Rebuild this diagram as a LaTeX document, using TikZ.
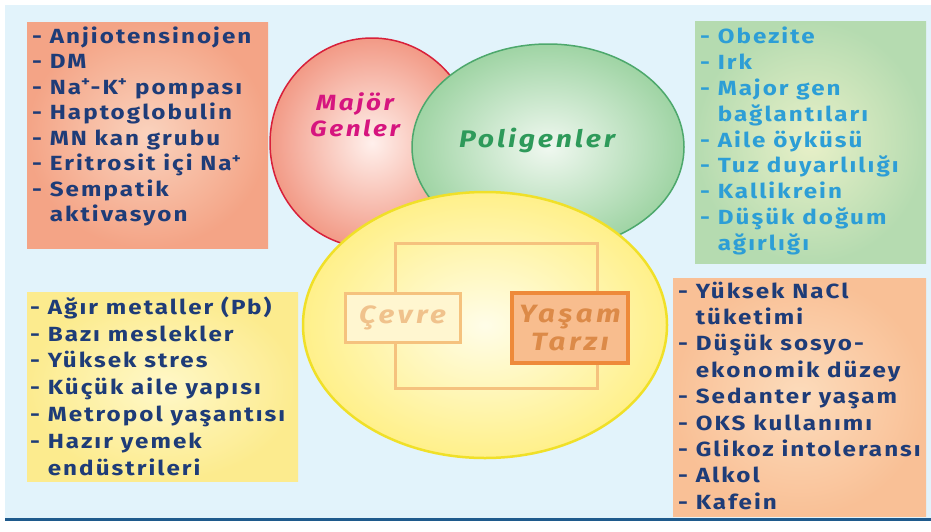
\documentclass[tikz,border=0pt]{standalone}
\usepackage{fontspec}
\setmainfont{Fira Sans}
\newfontfamily\listfont[FakeStretch=1.18,LetterSpace=10]{Fira Sans}
\newfontfamily\labfont[FakeStretch=1.18,LetterSpace=12]{Fira Sans}
\newfontfamily\boxfont[FakeStretch=1.18,LetterSpace=14]{Fira Sans}
\definecolor{bgblue}{HTML}{E2F3FB}
\definecolor{navy}{HTML}{1E3C78}
\definecolor{cyantext}{HTML}{2D9ED6}
\definecolor{salmonout}{HTML}{F4A486}
\definecolor{salmonin}{HTML}{FAD3BE}
\definecolor{greenout}{HTML}{B5DBB0}
\definecolor{greenin}{HTML}{E8F0C8}
\definecolor{yellowout}{HTML}{FCEB8E}
\definecolor{yellowin}{HTML}{FFF8C8}
\definecolor{peachout}{HTML}{F9C096}
\definecolor{peachin}{HTML}{FCDCBC}
\definecolor{redstroke}{HTML}{D8203A}
\definecolor{redout}{HTML}{F29A86}
\definecolor{redin}{HTML}{FFF0EC}
\definecolor{grstroke}{HTML}{4DA86C}
\definecolor{grout}{HTML}{9FD4A4}
\definecolor{grin}{HTML}{F0F8F0}
\definecolor{ylstroke}{HTML}{F0E028}
\definecolor{ylout}{HTML}{FFF08A}
\definecolor{ylin}{HTML}{FFFDE8}
\definecolor{lightorange}{HTML}{F5C27E}
\definecolor{cevrefill}{HTML}{FFF6D0}
\definecolor{cevretext}{HTML}{F0C28C}
\definecolor{yasamfill}{HTML}{F8BD8E}
\definecolor{yasamstroke}{HTML}{EE8A3A}
\definecolor{yasamtext}{HTML}{DC8A48}
\definecolor{magentatext}{HTML}{D6157F}
\definecolor{poligreen}{HTML}{2E9A5A}
\definecolor{lineblue}{HTML}{1E5A8C}
\tikzset{
  listtext/.style={anchor=north west, inner sep=0pt, align=left, text=navy},
  circlabel/.style={inner sep=0pt, align=center},
}
\begin{document}
\begin{tikzpicture}[x=1pt,y=-1pt]
\useasboundingbox (0,0) rectangle (931,531);
\fill[white] (0,0) rectangle (931,531);
\fill[bgblue] (5,5) rectangle (931,518);
\draw[lineblue, line width=3pt] (5,519.5) -- (931,519.5);
% boxes
\shade[inner color=salmonin, outer color=salmonout] (27,22) rectangle (268,248);
\shade[inner color=greenin, outer color=greenout] (695,21) rectangle (926,263);
\shade[inner color=yellowin, outer color=yellowout] (27,292) rectangle (298,481);
\shade[inner color=peachin, outer color=peachout] (673,278) rectangle (926,516);
% circles
\shade[inner color=redin, outer color=redout, draw=redstroke, line width=1.5pt] (372,143) ellipse [x radius=102, y radius=105];
\shade[inner color=grin, outer color=grout, draw=grstroke, line width=1.5pt] (548,147) ellipse [x radius=136, y radius=103];
\shade[inner color=ylin, outer color=ylout, draw=ylstroke, line width=2.5pt] (485,325) ellipse [x radius=182, y radius=133];
% inner frame
\draw[lightorange, line width=3pt] (395,243) rectangle (597,388);
\node[draw=lightorange, fill=cevrefill, line width=3pt, minimum width=115pt, minimum height=49pt, inner sep=0pt,
  font=\boxfont\fontsize{25}{28}\selectfont\bfseries\itshape, text=cevretext] (cevre) at (402.5,317.5) {Çevre};
\node[draw=yasamstroke, fill=yasamfill, line width=3.5pt, minimum width=116pt, minimum height=70pt, inner sep=0pt, align=center,
  font=\boxfont\fontsize{25}{28}\selectfont\bfseries\itshape, text=yasamtext] (yasam) at (570,328) {Yaşam\\Tarzı};
% circle labels
\node[circlabel, text=magentatext, font=\labfont\fontsize{22}{26.5}\selectfont\bfseries\itshape] (major) at (355,115) {Majör\\Genler};
\node[circlabel, text=poligreen, font=\labfont\fontsize{24}{28}\selectfont\bfseries\itshape] (poli) at (537,140) {Poligenler};
% list texts
\node[listtext, font=\listfont\fontsize{20.5}{25.5}\selectfont\bfseries] (tl) at (32,26.5) {- Anjiotensinojen\\- DM\\- Na\textsuperscript{+}-K\textsuperscript{+} pompası\\- Haptoglobulin\\- MN kan grubu\\- Eritrosit içi Na\textsuperscript{+}\\- Sempatik\\\phantom{- }aktivasyon};
\node[listtext, text=cyantext, font=\listfont\fontsize{20.5}{25.8}\selectfont\bfseries] (tr) at (700,27) {- Obezite\\- Irk\\- Major gen\\\phantom{- }bağlantıları\\- Aile öyküsü\\- Tuz duyarlılığı\\- Kallikrein\\- Düşük doğum\\\phantom{- }ağırlığı};
\node[listtext, font=\listfont\fontsize{20.5}{26.8}\selectfont\bfseries] (bl) at (30,296.5) {- Ağır metaller (Pb)\\- Bazı meslekler\\- Yüksek stres\\- Küçük aile yapısı\\- Metropol yaşantısı\\- Hazır yemek\\\phantom{- }endüstrileri};
\node[listtext, font=\listfont\fontsize{20.5}{26.4}\selectfont\bfseries] (br) at (678,281.5) {- Yüksek NaCl\\\phantom{- }tüketimi\\- Düşük sosyo-\\\phantom{- }ekonomik düzey\\- Sedanter yaşam\\- OKS kullanımı\\- Glikoz intoleransı\\- Alkol\\- Kafein};
\end{tikzpicture}
\end{document}
